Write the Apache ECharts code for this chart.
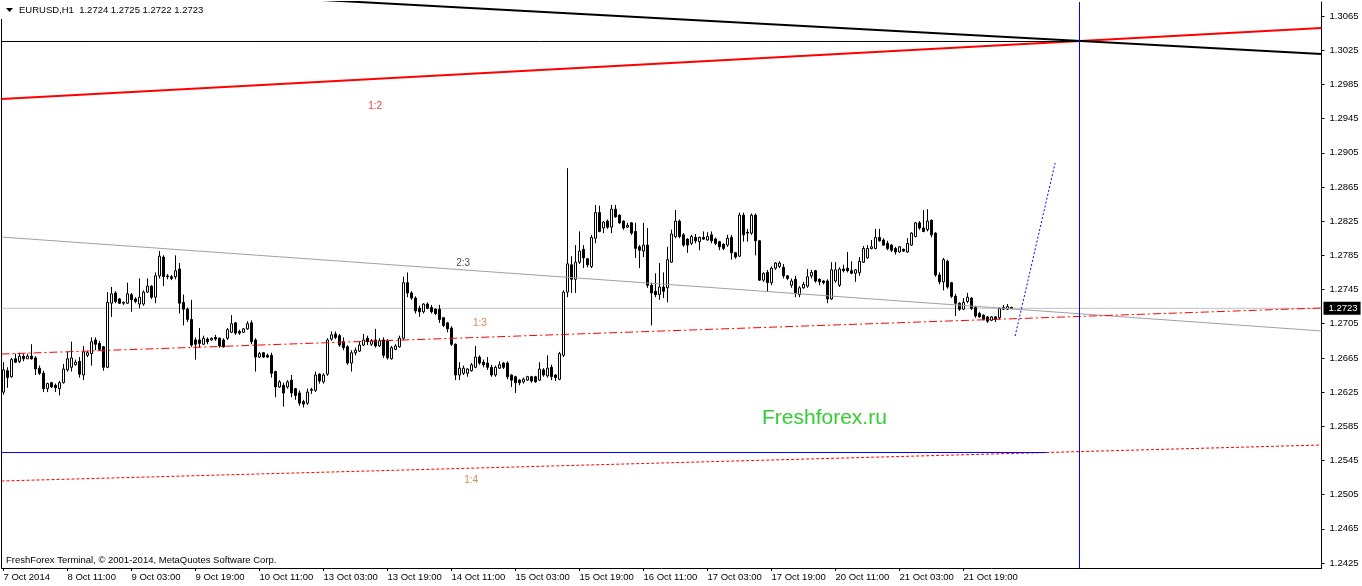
<!DOCTYPE html>
<html>
<head>
<meta charset="utf-8">
<script src="https://cdn.jsdelivr.net/npm/echarts@6/dist/echarts.min.js"></script>
<style>
html,body{margin:0;padding:0;background:#fff;}
#c{width:1362px;height:586px;}
</style>
</head>
<body>
<div id="c"></div>
<script>
// ---- DATA (EURUSD H1) ----
const tickLabels = ['7 Oct 2014','8 Oct 11:00','9 Oct 03:00','9 Oct 19:00','10 Oct 11:00','13 Oct 03:00','13 Oct 19:00','14 Oct 11:00','15 Oct 03:00','15 Oct 19:00','16 Oct 11:00','17 Oct 03:00','17 Oct 19:00','20 Oct 11:00','21 Oct 03:00','21 Oct 19:00'];
const barsPerLabel = 16;
const totalSlots = 330;
const priceTicks = [1.2425,1.2465,1.2505,1.2545,1.2585,1.2625,1.2665,1.2705,1.2745,1.2785,1.2825,1.2865,1.2905,1.2945,1.2985,1.3025,1.3065];
const priceMin = 1.24192, priceMax = 1.30814;

const openP = [
1.2625,1.2650,1.2643,1.2664,1.2661,1.2667,1.2664,1.2667,1.2665,1.2653,
1.2647,1.2629,1.2636,1.2633,1.2629,1.2636,1.2651,1.2654,1.2657,1.2661,
1.2645,1.2668,1.2670,1.2686,1.2682,1.2678,1.2654,1.2729,1.2741,1.2734,
1.2729,1.2729,1.2739,1.2734,1.2728,1.2728,1.2742,1.2749,1.2736,1.2761,
1.2783,1.2760,1.2760,1.2760,1.2769,1.2730,1.2722,1.2710,1.2686,1.2686,
1.2681,1.2687,1.2686,1.2689,1.2688,1.2686,1.2688,1.2695,1.2706,1.2696,
1.2695,1.2699,1.2706,1.2686,1.2666,1.2671,1.2668,1.2668,1.2649,1.2631,
1.2633,1.2631,1.2639,1.2629,1.2624,1.2614,1.2612,1.2627,1.2627,1.2646,
1.2637,1.2646,1.2687,1.2693,1.2691,1.2684,1.2678,1.2659,1.2671,1.2673,
1.2680,1.2688,1.2681,1.2686,1.2679,1.2686,1.2685,1.2664,1.2675,1.2678,
1.2688,1.2753,1.2741,1.2735,1.2723,1.2719,1.2728,1.2724,1.2722,1.2722,
1.2712,1.2706,1.2700,1.2681,1.2645,1.2647,1.2647,1.2650,1.2654,1.2666,
1.2660,1.2659,1.2654,1.2645,1.2653,1.2659,1.2659,1.2645,1.2643,1.2639,
1.2637,1.2639,1.2643,1.2643,1.2639,1.2651,1.2644,1.2654,1.2645,1.2640,
1.2668,1.2742,1.2774,1.2757,1.2777,1.2792,1.2781,1.2772,1.2805,1.2835,
1.2817,1.2825,1.2818,1.2839,1.2832,1.2825,1.2818,1.2823,1.2813,1.2795,
1.2790,1.2797,1.2750,1.2743,1.2739,1.2748,1.2747,1.2777,1.2807,1.2825,
1.2809,1.2804,1.2799,1.2806,1.2801,1.2806,1.2803,1.2809,1.2804,1.2801,
1.2798,1.2797,1.2806,1.2788,1.2784,1.2832,1.2812,1.2811,1.2832,1.2802,
1.2756,1.2765,1.2753,1.2770,1.2772,1.2771,1.2761,1.2750,1.2757,1.2739,
1.2747,1.2749,1.2761,1.2767,1.2757,1.2755,1.2755,1.2734,1.2755,1.2750,
1.2769,1.2770,1.2767,1.2764,1.2765,1.2777,1.2782,1.2793,1.2793,1.2806,
1.2803,1.2799,1.2797,1.2793,1.2789,1.2792,1.2789,1.2797,1.2807,1.2823,
1.2817,1.2815,1.2826,1.2811,1.2762,1.2754,1.2778,1.2753,1.2737,1.2729,
1.2722,1.2731,1.2735,1.2724,1.2717,1.2715,1.2713,1.2709,1.2713,1.2712,
1.2722,1.2722,1.2724];
const highP = [
1.2660,1.2654,1.2665,1.2670,1.2671,1.2670,1.2670,1.2681,1.2667,1.2656,
1.2650,1.2636,1.2637,1.2635,1.2638,1.2658,1.2672,1.2684,1.2663,1.2666,
1.2679,1.2673,1.2689,1.2689,1.2685,1.2679,1.2742,1.2748,1.2743,1.2735,
1.2731,1.2753,1.2741,1.2736,1.2758,1.2744,1.2758,1.2750,1.2765,1.2790,
1.2785,1.2763,1.2762,1.2785,1.2776,1.2739,1.2724,1.2733,1.2689,1.2700,
1.2691,1.2689,1.2689,1.2692,1.2689,1.2688,1.2700,1.2715,1.2707,1.2698,
1.2700,1.2708,1.2709,1.2688,1.2672,1.2672,1.2670,1.2671,1.2650,1.2639,
1.2636,1.2639,1.2645,1.2630,1.2627,1.2616,1.2629,1.2630,1.2649,1.2647,
1.2647,1.2688,1.2696,1.2696,1.2693,1.2689,1.2680,1.2674,1.2677,1.2684,
1.2693,1.2691,1.2687,1.2699,1.2688,1.2689,1.2687,1.2679,1.2681,1.2691,
1.2760,1.2765,1.2743,1.2737,1.2726,1.2729,1.2730,1.2727,1.2723,1.2727,
1.2713,1.2707,1.2702,1.2682,1.2660,1.2656,1.2653,1.2659,1.2679,1.2668,
1.2663,1.2666,1.2657,1.2656,1.2661,1.2660,1.2661,1.2646,1.2644,1.2640,
1.2642,1.2644,1.2644,1.2644,1.2660,1.2653,1.2668,1.2657,1.2646,1.2672,
1.2744,1.2887,1.2784,1.2797,1.2813,1.2797,1.2782,1.2809,1.2844,1.2843,
1.2825,1.2827,1.2844,1.2844,1.2833,1.2826,1.2823,1.2824,1.2823,1.2797,
1.2823,1.2817,1.2753,1.2764,1.2776,1.2765,1.2795,1.2815,1.2838,1.2827,
1.2811,1.2805,1.2809,1.2810,1.2807,1.2813,1.2812,1.2813,1.2806,1.2802,
1.2799,1.2809,1.2809,1.2789,1.2835,1.2835,1.2816,1.2834,1.2834,1.2803,
1.2765,1.2768,1.2772,1.2777,1.2778,1.2775,1.2762,1.2758,1.2761,1.2749,
1.2754,1.2769,1.2768,1.2768,1.2758,1.2756,1.2757,1.2777,1.2777,1.2771,
1.2774,1.2789,1.2778,1.2769,1.2783,1.2796,1.2797,1.2803,1.2816,1.2816,
1.2805,1.2802,1.2798,1.2795,1.2796,1.2793,1.2805,1.2812,1.2824,1.2825,
1.2838,1.2839,1.2827,1.2812,1.2765,1.2782,1.2780,1.2754,1.2740,1.2730,
1.2735,1.2741,1.2736,1.2726,1.2719,1.2716,1.2714,1.2714,1.2714,1.2724,
1.2727,1.2728,1.2725];
const lowP = [
1.2622,1.2630,1.2642,1.2659,1.2659,1.2661,1.2664,1.2663,1.2645,1.2645,
1.2625,1.2625,1.2630,1.2625,1.2621,1.2635,1.2649,1.2649,1.2656,1.2642,
1.2639,1.2666,1.2656,1.2674,1.2673,1.2650,1.2653,1.2713,1.2729,1.2728,
1.2727,1.2728,1.2719,1.2729,1.2723,1.2726,1.2741,1.2734,1.2729,1.2758,
1.2749,1.2757,1.2756,1.2757,1.2717,1.2703,1.2707,1.2678,1.2663,1.2677,
1.2680,1.2681,1.2685,1.2685,1.2677,1.2677,1.2686,1.2694,1.2692,1.2692,
1.2694,1.2698,1.2681,1.2649,1.2665,1.2665,1.2665,1.2642,1.2619,1.2630,
1.2608,1.2629,1.2619,1.2616,1.2609,1.2607,1.2610,1.2623,1.2625,1.2635,
1.2635,1.2644,1.2685,1.2687,1.2678,1.2674,1.2657,1.2649,1.2668,1.2672,
1.2679,1.2680,1.2679,1.2677,1.2678,1.2665,1.2663,1.2663,1.2674,1.2677,
1.2686,1.2736,1.2733,1.2717,1.2713,1.2717,1.2722,1.2717,1.2715,1.2706,
1.2701,1.2695,1.2679,1.2639,1.2639,1.2645,1.2643,1.2649,1.2653,1.2657,
1.2654,1.2651,1.2643,1.2643,1.2652,1.2652,1.2640,1.2631,1.2624,1.2633,
1.2635,1.2638,1.2636,1.2636,1.2638,1.2643,1.2642,1.2639,1.2638,1.2639,
1.2666,1.2736,1.2741,1.2741,1.2775,1.2770,1.2771,1.2770,1.2799,1.2812,
1.2811,1.2816,1.2811,1.2829,1.2822,1.2815,1.2817,1.2809,1.2782,1.2770,
1.2783,1.2747,1.2703,1.2736,1.2733,1.2735,1.2730,1.2776,1.2805,1.2805,
1.2795,1.2788,1.2797,1.2799,1.2791,1.2803,1.2802,1.2799,1.2797,1.2791,
1.2791,1.2795,1.2780,1.2781,1.2783,1.2801,1.2801,1.2809,1.2785,1.2755,
1.2754,1.2742,1.2750,1.2768,1.2770,1.2758,1.2756,1.2747,1.2736,1.2736,
1.2746,1.2747,1.2758,1.2753,1.2750,1.2751,1.2729,1.2733,1.2753,1.2748,
1.2765,1.2765,1.2763,1.2754,1.2761,1.2776,1.2781,1.2792,1.2792,1.2801,
1.2796,1.2791,1.2789,1.2786,1.2788,1.2789,1.2788,1.2796,1.2806,1.2815,
1.2812,1.2813,1.2806,1.2760,1.2751,1.2744,1.2746,1.2735,1.2714,1.2720,
1.2721,1.2729,1.2721,1.2712,1.2712,1.2709,1.2706,1.2708,1.2707,1.2710,
1.2721,1.2721,1.2722];
const closeP = [
1.2651,1.2642,1.2663,1.2660,1.2667,1.2664,1.2667,1.2664,1.2652,1.2647,
1.2629,1.2635,1.2631,1.2630,1.2636,1.2652,1.2664,1.2665,1.2660,1.2646,
1.2672,1.2671,1.2684,1.2681,1.2675,1.2654,1.2730,1.2740,1.2731,1.2729,
1.2730,1.2740,1.2733,1.2731,1.2736,1.2742,1.2749,1.2736,1.2761,1.2784,
1.2760,1.2761,1.2758,1.2767,1.2729,1.2722,1.2710,1.2680,1.2681,1.2682,
1.2688,1.2684,1.2688,1.2687,1.2679,1.2678,1.2698,1.2705,1.2694,1.2694,
1.2699,1.2705,1.2684,1.2666,1.2670,1.2666,1.2666,1.2647,1.2631,1.2637,
1.2624,1.2637,1.2624,1.2621,1.2612,1.2611,1.2625,1.2628,1.2645,1.2638,
1.2645,1.2686,1.2692,1.2689,1.2680,1.2677,1.2659,1.2671,1.2674,1.2680,
1.2686,1.2684,1.2685,1.2679,1.2685,1.2668,1.2665,1.2677,1.2679,1.2688,
1.2753,1.2741,1.2735,1.2720,1.2719,1.2728,1.2723,1.2719,1.2717,1.2710,
1.2703,1.2699,1.2681,1.2645,1.2653,1.2653,1.2652,1.2657,1.2666,1.2659,
1.2657,1.2654,1.2645,1.2654,1.2657,1.2654,1.2643,1.2639,1.2636,1.2636,
1.2640,1.2643,1.2638,1.2637,1.2652,1.2645,1.2653,1.2643,1.2642,1.2670,
1.2742,1.2775,1.2757,1.2777,1.2790,1.2782,1.2774,1.2806,1.2835,1.2813,
1.2824,1.2818,1.2839,1.2830,1.2823,1.2817,1.2820,1.2811,1.2793,1.2791,
1.2797,1.2750,1.2741,1.2739,1.2748,1.2743,1.2780,1.2810,1.2825,1.2807,
1.2797,1.2797,1.2807,1.2802,1.2806,1.2804,1.2807,1.2802,1.2799,1.2795,
1.2793,1.2805,1.2788,1.2783,1.2832,1.2809,1.2811,1.2832,1.2802,1.2756,
1.2764,1.2753,1.2770,1.2776,1.2776,1.2761,1.2758,1.2755,1.2741,1.2747,
1.2751,1.2760,1.2765,1.2755,1.2754,1.2753,1.2734,1.2768,1.2768,1.2769,
1.2767,1.2767,1.2764,1.2768,1.2778,1.2793,1.2793,1.2795,1.2806,1.2802,
1.2797,1.2793,1.2791,1.2789,1.2795,1.2790,1.2799,1.2811,1.2823,1.2817,
1.2813,1.2825,1.2809,1.2762,1.2754,1.2780,1.2748,1.2737,1.2729,1.2722,
1.2730,1.2736,1.2723,1.2714,1.2713,1.2710,1.2708,1.2713,1.2710,1.2723,
1.2724,1.2725,1.2723];

// Trend-line anchors: [bar index, price]
const blackTrend   = [[60, 1.30887], [329.5, 1.30205]];
const redTrend     = [[-0.5, 1.29679], [329.5, 1.30510]];
const grayTrend    = [[-0.5, 1.28064], [329.5, 1.26965]];
const redDashDot   = [[-0.5, 1.26695], [329.5, 1.27234]];
const redDotted    = [[-0.5, 1.25210], [329.5, 1.25631]];
const blueLevel    = [[-0.5, 1.25543], [260.75, 1.25543]];
const blackLevel   = [[-0.5, 1.30352], [269, 1.30352]];
const blueProjection = [[252.9, 1.26906], [262.9, 1.28930]];
const vLineBar = 269;
const bidPrice = 1.2723;
const annotations = [
  {text:'1:2', bar:92.9,  price:1.29597, color:'#ff0000'},
  {text:'2:3', bar:114.9, price:1.27760, color:'#202020'},
  {text:'1:3', bar:119.1, price:1.27058, color:'#e8601c'},
  {text:'1:4', bar:116.9, price:1.25218, color:'#d2691e'}
];
const symbolTitle = 'EURUSD,H1  1.2724 1.2725 1.2722 1.2723';

// ---- CHART ----
const FONT = 'Liberation Sans';
const cats = [];
for (let i = 0; i < totalSlots; i++) cats.push(String(i));
const candles = openP.map((o, i) => [o, closeP[i], lowP[i], highP[i]]);
const showTick = (idx) => idx % barsPerLabel === 0 && (idx / barsPerLabel) < tickLabels.length;

function trend(data, color, width, type, extra) {
  return Object.assign({
    type: 'line', xAxisIndex: 1, yAxisIndex: 0, data: data,
    showSymbol: false, symbol: 'none', silent: true, clip: true, z: 5,
    lineStyle: {color: color, width: width, type: type || 'solid'},
    animation: false
  }, extra || {});
}

const chart = echarts.init(document.getElementById('c'), null, {renderer: 'canvas'});
chart.setOption({
  animation: false,
  backgroundColor: '#ffffff',
  grid: {left: 1.5, right: 40.5, top: 2, bottom: 18, show: false},
  xAxis: [{
    type: 'category', data: cats, boundaryGap: true,
    axisLine: {show: true, onZero: false, lineStyle: {color: '#000', width: 1}},
    axisTick: {show: true, length: 3, alignWithLabel: true, interval: (idx) => showTick(idx), lineStyle: {color: '#000'}},
    axisLabel: {
      show: true, interval: (idx) => showTick(idx), align: 'left', margin: 4,
      fontFamily: FONT, fontSize: 9.5, color: '#000',
      formatter: (v, idx) => showTick(idx) ? tickLabels[idx / barsPerLabel] : ''
    },
    splitLine: {show: false}
  }, {
    type: 'value', min: -0.5, max: totalSlots - 0.5, show: false,
    axisLine: {onZero: false}
  }],
  yAxis: [{
    type: 'value', position: 'right', min: priceMin, max: priceMax,
    axisLine: {show: true, onZero: false, lineStyle: {color: '#000', width: 1}},
    axisTick: {show: true, length: 3, customValues: priceTicks, lineStyle: {color: '#000'}},
    axisLabel: {show: true, customValues: priceTicks, margin: 8, fontFamily: FONT, fontSize: 9.5, color: '#000',
      formatter: (v) => v.toFixed(4)},
    splitLine: {show: false}
  }, {
    type: 'value', position: 'left', min: priceMin, max: priceMax,
    axisLine: {show: true, onZero: false, lineStyle: {color: '#000', width: 1}},
    axisTick: {show: false}, axisLabel: {show: false}, splitLine: {show: false}
  }],
  series: [
    trend([[-0.5, bidPrice], [totalSlots - 0.5, bidPrice]], '#c0c0c0', 1, 'solid', {
      z: 1,
      endLabel: {show: true, distance: 2, formatter: () => bidPrice.toFixed(4),
        backgroundColor: '#000', color: '#fff', fontFamily: FONT, fontSize: 9.5, padding: [2, 3, 1, 5]}
    }),
    {
      type: 'candlestick', xAxisIndex: 0, yAxisIndex: 0, data: candles, barWidth: 2, z: 3,
      itemStyle: {color: '#ffffff', color0: '#000000', borderColor: '#000000', borderColor0: '#000000', borderColorDoji: '#000000', borderWidth: 1}
    },
    trend(redTrend, '#ff0000', 2),
    trend(blackTrend, '#000000', 2),
    trend(blackLevel, '#000000', 1),
    trend(grayTrend, '#a0a0a0', 1),
    trend(redDashDot, '#ff0000', 1, [8, 3, 2, 3]),
    trend(redDotted, '#ff0000', 1, [3, 2]),
    trend(blueLevel, '#0000ff', 1),
    trend(blueProjection, '#0000ff', 1, [2, 2]),
    trend([[vLineBar, priceMin], [vLineBar, priceMax]], '#0000ff', 1),
    {
      type: 'scatter', xAxisIndex: 1, yAxisIndex: 0, symbolSize: 0, silent: true, z: 6,
      data: annotations.map(a => ({value: [a.bar, a.price], name: a.text,
        label: {show: true, position: 'inside', formatter: a.text, color: a.color, fontFamily: FONT, fontSize: 10}}))
    }
  ],
  graphic: [
    {type: 'rect', left: 0, top: 0, shape: {width: 6, height: 19}, style: {fill: '#fff'}, z: 9},
    {type: 'polygon', left: 6, top: 8, shape: {points: [[0, 0], [7, 0], [3.5, 4]]}, style: {fill: '#000'}, z: 10},
    {type: 'text', left: 19, top: 5, z: 10, style: {text: symbolTitle, font: '9.5px "' + FONT + '"', fill: '#000'}},
    {type: 'text', left: 6, top: 555, z: 10, style: {text: 'FreshForex Terminal, © 2001-2014, MetaQuotes Software Corp.', font: '9.5px "' + FONT + '"', fill: '#000'}},
    {type: 'text', left: 762, top: 408, z: 10, style: {text: 'Freshforex.ru', font: '21px "' + FONT + '"', fill: '#32cd32'}}
  ]
});
</script>
</body>
</html>
